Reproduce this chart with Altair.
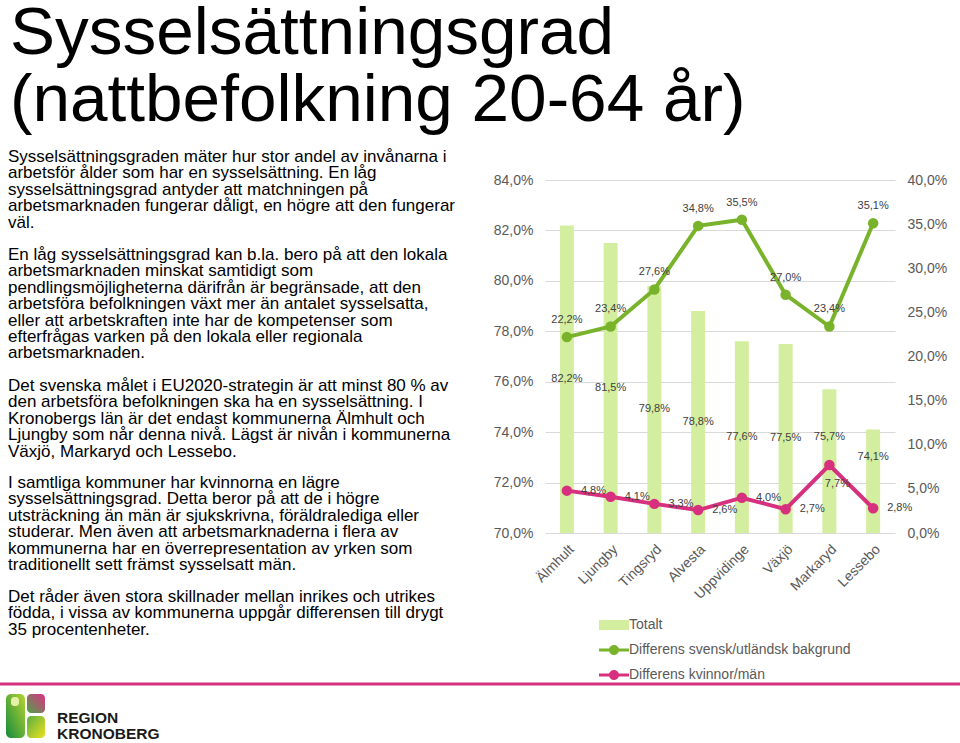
import altair as alt
import pandas as pd

# ---------------- data ----------------
kommuner = ["Älmhult", "Ljungby", "Tingsryd", "Alvesta", "Uppvidinge", "Växjö", "Markaryd", "Lessebo"]
totalt = [82.2, 81.5, 79.8, 78.8, 77.6, 77.5, 75.7, 74.1]
diff_bakgrund = [22.2, 23.4, 27.6, 34.8, 35.5, 27.0, 23.4, 35.1]
diff_kon = [4.8, 4.1, 3.3, 2.6, 4.0, 2.7, 7.7, 2.8]
serie_namn = ["Totalt", "Differens svensk/utländsk bakgrund", "Differens kvinnor/män"]
left_ticks = [70, 72, 74, 76, 78, 80, 82, 84]
right_ticks = [0, 5, 10, 15, 20, 25, 30, 35, 40]

title_lines = ["Sysselsättningsgrad", "(nattbefolkning 20-64 år)"]
para1 = ["Sysselsättningsgraden mäter hur stor andel av invånarna i",
         "arbetsför ålder som har en sysselsättning. En låg",
         "sysselsättningsgrad antyder att matchningen på",
         "arbetsmarknaden fungerar dåligt, en högre att den fungerar",
         "väl."]
para2 = ["En låg sysselsättningsgrad kan b.la. bero på att den lokala",
         "arbetsmarknaden minskat samtidigt som",
         "pendlingsmöjligheterna därifrån är begränsade, att den",
         "arbetsföra befolkningen växt mer än antalet sysselsatta,",
         "eller att arbetskraften inte har de kompetenser som",
         "efterfrågas varken på den lokala eller regionala",
         "arbetsmarknaden."]
para3 = ["Det svenska målet i EU2020-strategin är att minst 80 % av",
         "den arbetsföra befolkningen ska ha en sysselsättning. I",
         "Kronobergs län är det endast kommunerna Älmhult och",
         "Ljungby som når denna nivå. Lägst är nivån i kommunerna",
         "Växjö, Markaryd och Lessebo."]
para4 = ["I samtliga kommuner har kvinnorna en lägre",
         "sysselsättningsgrad. Detta beror på att de i högre",
         "utsträckning än män är sjukskrivna, föräldralediga eller",
         "studerar. Men även att arbetsmarknaderna i flera av",
         "kommunerna har en överrepresentation av yrken som",
         "traditionellt sett främst sysselsatt män."]
para5 = ["Det råder även stora skillnader mellan inrikes och utrikes",
         "födda, i vissa av kommunerna uppgår differensen till drygt",
         "35 procentenheter."]
logo_lines = ["REGION", "KRONOBERG"]

# ---------------- style ----------------
FONT = "Liberation Sans"
BAR = "#d3ee9e"
GREEN = "#78b32b"
PINK = "#d6307e"
AXIS_GRAY = "#595959"
LABEL_GRAY = "#404040"
X0, Y0 = 545, 180       # plot origin on the page
W, H = 350, 353

df_tot = pd.DataFrame({"kommun": kommuner, "v": totalt})
df_lines = pd.DataFrame({
    "kommun": kommuner * 2,
    "serie": [serie_namn[1]] * len(kommuner) + [serie_namn[2]] * len(kommuner),
    "v": diff_bakgrund + diff_kon,
})
df_legend = pd.DataFrame({"serie": serie_namn})
one = pd.DataFrame({"a": [0]})

pct = "replace(format(datum.v, '.1f'), '.', ',') + '%'"
tick_fmt = "replace(format(datum.value, '.1f'), '.', ',') + '%'"

x_enc = alt.X("kommun:N", sort=kommuner,
              scale=alt.Scale(paddingInner=0, paddingOuter=0),
              axis=alt.Axis(title=None, labelAngle=-45, labelFontSize=14, labelColor=AXIS_GRAY,
                            labelFont=FONT, ticks=False, domain=False, labelPadding=9, grid=False))

left_scale = alt.Scale(domain=[70, 84], nice=False, zero=False)
left_axis = alt.Axis(title=None, orient="left", values=left_ticks, labelExpr=tick_fmt,
                     labelFontSize=14, labelColor=AXIS_GRAY, labelFont=FONT, ticks=False,
                     domain=False, grid=True, gridColor="#d9d9d9", labelPadding=12)
right_scale = alt.Scale(domain=[0, 40], nice=False, zero=True)
right_axis = alt.Axis(title=None, orient="right", values=right_ticks, labelExpr=tick_fmt,
                      labelFontSize=14, labelColor=AXIS_GRAY, labelFont=FONT, ticks=False,
                      domain=False, grid=False, labelPadding=12)

# ---------------- bars (left axis) ----------------
bars = alt.Chart(df_tot).mark_bar(color=BAR, size=14).encode(
    x=x_enc,
    y=alt.Y("v:Q", scale=left_scale, axis=left_axis),
    y2=alt.datum(70),
)
bar_text = alt.Chart(df_tot).transform_calculate(
    ly="datum.v >= 77 ? (datum.v + 70) / 2 : (datum.v + 71.9) / 2",
    lab=pct,
).mark_text(font=FONT, fontSize=11, color=LABEL_GRAY, baseline="middle").encode(
    x=x_enc,
    y=alt.Y("ly:Q", scale=left_scale, axis=left_axis),
    text="lab:N",
)

# ---------------- lines (right axis) ----------------
def line_layers(name, color):
    base = alt.Chart(df_lines).transform_filter(alt.datum.serie == name)
    ln = base.mark_line(color=color, strokeWidth=4).encode(
        x=x_enc, y=alt.Y("v:Q", scale=right_scale, axis=right_axis))
    pt = base.mark_point(color=color, filled=True, size=110, opacity=1).encode(
        x=x_enc, y=alt.Y("v:Q", scale=right_scale, axis=right_axis))
    return ln, pt

g_line, g_pts = line_layers(serie_namn[1], GREEN)
p_line, p_pts = line_layers(serie_namn[2], PINK)

g_text = alt.Chart(df_lines).transform_filter(alt.datum.serie == serie_namn[1]).transform_calculate(
    lab=pct).mark_text(font=FONT, fontSize=11, color=LABEL_GRAY, dy=-17, baseline="middle").encode(
    x=x_enc, y=alt.Y("v:Q", scale=right_scale, axis=right_axis), text="lab:N")
p_text = alt.Chart(df_lines).transform_filter(
    (alt.datum.serie == serie_namn[2]) & (alt.datum.kommun != "Markaryd")).transform_calculate(
    lab=pct).mark_text(font=FONT, fontSize=11, color=LABEL_GRAY, dx=14, align="left",
                       baseline="middle").encode(
    x=x_enc, y=alt.Y("v:Q", scale=right_scale, axis=right_axis), text="lab:N")
p_text2 = alt.Chart(df_lines).transform_filter(
    (alt.datum.serie == serie_namn[2]) & (alt.datum.kommun == "Markaryd")).transform_calculate(
    lab=pct).mark_text(font=FONT, fontSize=11, color=LABEL_GRAY, dx=8, dy=19,
                       baseline="middle").encode(
    x=x_enc, y=alt.Y("v:Q", scale=right_scale, axis=right_axis), text="lab:N")

# legend carrier (draws nothing, only the legend)
rect_path = "M-3,-1L3,-1L3,1L-3,1Z"
line_path = "M-3,-0.3L3,-0.3L3,0.3L-3,0.3Z M1,0 A1,1 0 1,1 -1,0 A1,1 0 1,1 1,0 Z"
legend_cfg = alt.Legend(orient="none", legendX=62, legendY=438, title=None, labelFontSize=14,
                        labelColor=AXIS_GRAY, labelFont=FONT, symbolSize=100, symbolStrokeWidth=0,
                        labelOffset=8, rowPadding=11, padding=0, symbolOpacity=1, labelLimit=0)
legend_layer = alt.Chart(df_legend).transform_filter("false").mark_point(filled=True, opacity=1).encode(
    x=x_enc,
    y=alt.Y("v:Q", scale=right_scale, axis=right_axis),
    color=alt.Color("serie:N", scale=alt.Scale(domain=serie_namn, range=[BAR, GREEN, PINK]),
                    legend=legend_cfg),
    shape=alt.Shape("serie:N", scale=alt.Scale(domain=serie_namn, range=[rect_path, line_path, line_path]),
                    legend=legend_cfg),
)

# ---------------- page text & decoration ----------------
def text_block(lines, x, y, size, lh, **kw):
    return alt.Chart(one).mark_text(text=lines, font=FONT, fontSize=size, lineHeight=lh,
                                    align="left", baseline="alphabetic", color="#000000", **kw).encode(
        x=alt.value(x - X0), y=alt.value(y - Y0))


title = text_block(title_lines, 10, 54, 67.5, 67)
paras = [text_block(p, 8, y, 17, 16.4) for p, y in
         zip([para1, para2, para3, para4, para5], [162, 260, 391, 488, 602])]
sep = alt.Chart(one).mark_rule(color=PINK, strokeWidth=3).encode(
    x=alt.value(0 - X0), x2=alt.value(960 - X0), y=alt.value(684 - Y0))


def grad(c1, c2, x1, y1, x2, y2):
    return alt.LinearGradient(gradient="linear", x1=x1, y1=y1, x2=x2, y2=y2,
                              stops=[alt.GradientStop(color=c1, offset=0),
                                     alt.GradientStop(color=c2, offset=1)])


logo_left = alt.Chart(one).mark_rect(cornerRadius=5, color=grad("#b7d432", "#138a3c", 1, 0, 0, 1)).encode(
    x=alt.value(6 - X0), x2=alt.value(25 - X0), y=alt.value(694 - Y0), y2=alt.value(738 - Y0))
logo_dot = alt.Chart(one).mark_rect(cornerRadius=3, color="#e6f0a6").encode(
    x=alt.value(11 - X0), x2=alt.value(19 - X0), y=alt.value(697 - Y0), y2=alt.value(706 - Y0))
logo_top = alt.Chart(one).mark_rect(cornerRadius=4, color=grad("#4da447", "#de2f86", 0, 1, 1, 0)).encode(
    x=alt.value(27 - X0), x2=alt.value(45 - X0), y=alt.value(694 - Y0), y2=alt.value(713 - Y0))
logo_bot = alt.Chart(one).mark_rect(cornerRadius=4, color=grad("#5aae44", "#ece21a", 0, 0, 1, 1)).encode(
    x=alt.value(27 - X0), x2=alt.value(45 - X0), y=alt.value(716 - Y0), y2=alt.value(738 - Y0))
logo_text = alt.Chart(one).mark_text(text=logo_lines, font=FONT, fontSize=15.5, fontWeight="bold",
                                     lineHeight=16, align="left",
                                     baseline="alphabetic", color="#1a1a1a").encode(
    x=alt.value(57 - X0), y=alt.value(723 - Y0))

left_group = alt.layer(bars, bar_text, title, *paras, sep,
                       logo_left, logo_dot, logo_top, logo_bot, logo_text)
right_group = alt.layer(g_line, p_line, g_pts, p_pts, g_text, p_text, p_text2, legend_layer)

chart = alt.layer(left_group, right_group).resolve_scale(
    y="independent"
).properties(
    width=W, height=H,
    autosize=alt.AutoSizeParams(type="none"),
    padding={"left": X0, "top": Y0, "right": 960 - X0 - W, "bottom": 743 - Y0 - H},
    background="white",
).configure_view(stroke=None)

chart.save("out.html", embed_options={"renderer": "svg", "actions": False})
